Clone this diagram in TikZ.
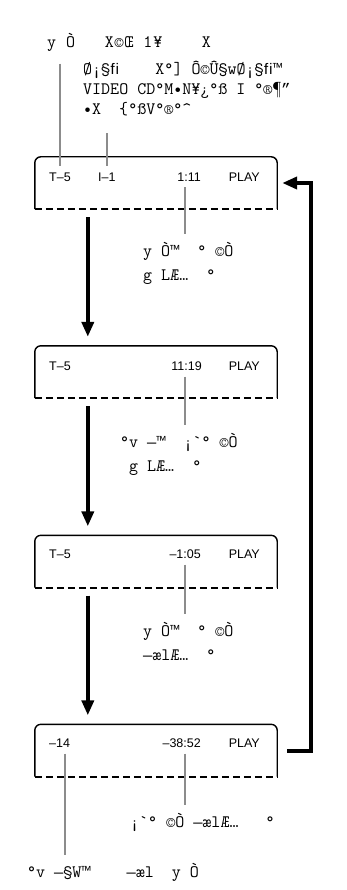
\documentclass[tikz,border=0pt]{standalone}
\usepackage{fontspec}
\setmainfont{Liberation Sans}
\newfontfamily\crmono{Latin Modern Mono}[Ligatures=TeXOff]
\newfontfamily\crsym{Liberation Mono}[Scale=0.875]
\newcommand\tmk{{\crsym ™}}
\newcommand\fil{{\crsym ﬁ}}
\newcommand\emd{{\crsym —}}
\newcommand\rqt{{\crsym ”}}
\usetikzlibrary{arrows.meta, positioning, calc}
\definecolor{leadgray}{HTML}{8C8C8C}

\begin{document}
\begin{tikzpicture}[x=1pt, y=-1pt,
  >={Triangle[length=15pt, width=12pt]},
  lcd/.style={minimum width=242pt, minimum height=52pt, inner sep=0pt},
  frame/.style={line width=1.4pt, rounded corners=6pt},
  dashline/.style={dash pattern=on 7pt off 4pt, line width=2pt},
  readout/.style={font=\fontsize{12.5}{15}\selectfont, inner xsep=0pt, inner ysep=6pt},
  jp/.style={font=\crmono\fontsize{17.5}{24}\selectfont, align=left,
    inner xsep=0pt, inner ysep=8pt, anchor=north west},
  lead/.style={leadgray, line width=2pt},
  flow/.style={->, line width=4pt},
]
\useasboundingbox (0,0) rectangle (347,890);

% Displays
\node[lcd] (lcd1) at (156,183) {};
\node[lcd] (lcd2) at (156,372) {};
\node[lcd] (lcd3) at (156,561.5) {};
\node[lcd] (lcd4) at (156,750.5) {};
\foreach \n in {1,...,4} {
  \draw[frame] (lcd\n.south west) -- (lcd\n.north west) -- (lcd\n.north east) -- (lcd\n.south east);
  \draw[dashline] (lcd\n.south west) -- (lcd\n.south east);
}

% Readouts
\node[readout, anchor=west] (title1) at (49,177) {T–5};
\node[readout, anchor=west] (index1) at (98,177) {I–1};
\node[readout, anchor=east] (time1) at (201,177) {1:11};
\node[readout, anchor=east] (mode1) at (260,177) {PLAY};

\node[readout, anchor=west] (title2) at (49,366) {T–5};
\node[readout, anchor=east] (time2) at (202,366) {11:19};
\node[readout, anchor=east] (mode2) at (260,366) {PLAY};

\node[readout, anchor=west] (title3) at (49,554) {T–5};
\node[readout, anchor=east] (time3) at (201,554) {–1:05};
\node[readout, anchor=east] (mode3) at (260,554) {PLAY};

\node[readout, anchor=west] (title4) at (49,743) {–14};
\node[readout, anchor=east] (time4) at (201,743) {–38:52};
\node[readout, anchor=east] (mode4) at (260,743) {PLAY};

% Notes
\node[jp] (head) at (47,25) {\addfontfeature{LetterSpace=5}y Ò~~~X©Œ 1¥~~~~X};
\node[jp, font=\crmono\fontsize{17.5}{20}\selectfont] (info) at (83,53)
  {Ø¡§\fil~~~~X°] Ô©Û§wØ¡§\fil\tmk\\VIDEO CD°M•N¥¿°ß I °®¶\rqt\\•X~~\symbol{"7B}°ßV°®°\symbol{"5E}};
\node[jp] (note1) at (143,234) {y Ò\tmk~~° ©Ò\\g LÆ…~~°};
\node[jp] (note2) at (120,425) {°v \emd\tmk~~¡`° ©Ò\\~g LÆ…~~°};
\node[jp] (note3) at (143,614) {y Ò\tmk~~° ©Ò\\\emd ælÆ…~~°};
\node[jp] (note4) at (130,805) {¡`° ©Ò \emd ælÆ…~~~°};
\node[jp] (note5) at (27,855) {°v \emd§W\tmk~~~~\emd æl~~y Ò};

% Leader lines
\coordinate (tick) at (185,0);
\coordinate (tick4) at (65,0);
\draw[lead, shorten <=4pt] (head.south -| title1) -- (title1.north);
\draw[lead, shorten <=9pt] (info.south -| index1) -- (index1.north);
\foreach \n in {1,...,4}
  \draw[lead] (time\n.south -| tick) -- (note\n.north -| tick);
\draw[lead] (title4.south -| tick4) -- (note5.north -| tick4);

% Arrows
\foreach \a/\b in {1/2,2/3,3/4}
  \draw[flow] ([xshift=53pt, yshift=-8pt]lcd\a.south west) -- ([xshift=53pt, yshift=9pt]lcd\b.north west);
\draw[flow] ([xshift=10pt]lcd4.east) -- ++(24,0) |- ([xshift=5pt]lcd1.east);

\end{tikzpicture}
\end{document}
